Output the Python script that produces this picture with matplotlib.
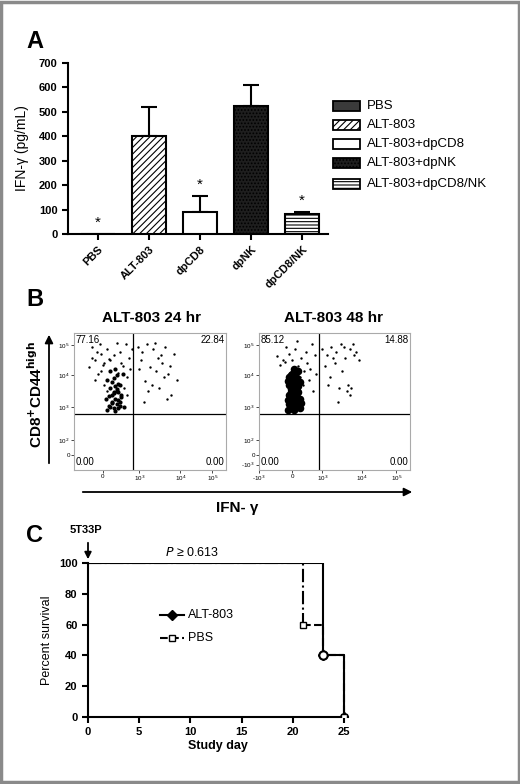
import matplotlib
matplotlib.use("Agg")
import matplotlib.pyplot as plt
from matplotlib.patches import Rectangle, FancyArrowPatch

plt.rcParams['font.family'] = ['Liberation Sans', 'DejaVu Sans']
plt.rcParams['hatch.linewidth'] = 0.8

# ---------- data ----------
cats = ["PBS", "ALT-803", "dpCD8", "dpNK", "dpCD8/NK"]
legend_labels = ["PBS", "ALT-803", "ALT-803+dpCD8", "ALT-803+dpNK", "ALT-803+dpCD8/NK"]
ifn = [0, 400, 90, 525, 80]
ifn_err = [0, 118, 65, 85, 12]
star_y = [45, None, 200, None, 135]

quad24 = ["77.16", "22.84", "0.00", "0.00"]
quad48 = ["85.12", "14.88", "0.00", "0.00"]

L_dense_x = [0.22,0.24,0.26,0.28,0.30,0.25,0.27,0.29,0.23,0.31,0.26,0.28,0.24,0.27,0.30,0.25,0.29,0.22,0.26,0.28,0.32,0.24,0.27,0.29,0.25,0.23,0.31,0.26,0.28,0.30,0.21,0.33,0.27,0.25,0.29]
L_dense_y = [0.44,0.46,0.45,0.48,0.47,0.50,0.52,0.51,0.54,0.55,0.57,0.58,0.60,0.61,0.62,0.64,0.63,0.66,0.67,0.69,0.70,0.72,0.74,0.45,0.49,0.47,0.53,0.56,0.59,0.50,0.52,0.46,0.43,0.55,0.57]
L_sp_x = [0.10,0.14,0.18,0.12,0.20,0.16,0.22,0.34,0.36,0.32,0.30,0.24,0.18,0.14,0.28,0.35,0.20,0.26,0.33,0.38,0.12,0.31,0.22,0.17,0.37,0.19,0.29,0.35,0.23,0.15]
L_sp_y = [0.75,0.80,0.85,0.90,0.78,0.70,0.88,0.92,0.82,0.76,0.86,0.80,0.72,0.66,0.93,0.68,0.62,0.84,0.60,0.88,0.82,0.78,0.58,0.92,0.74,0.77,0.71,0.55,0.81,0.86]
L_ur_x = [0.42,0.45,0.48,0.52,0.55,0.58,0.60,0.62,0.50,0.47,0.44,0.56,0.64,0.66,0.53,0.49,0.59,0.61,0.54,0.43,0.57,0.51,0.63,0.46,0.68]
L_ur_y = [0.90,0.86,0.92,0.88,0.82,0.78,0.90,0.70,0.75,0.65,0.80,0.60,0.55,0.85,0.93,0.58,0.68,0.52,0.72,0.74,0.84,0.62,0.76,0.50,0.66]

R_dense_x = [0.19,0.21,0.23,0.25,0.27,0.20,0.22,0.24,0.26,0.28,0.19,0.21,0.23,0.25,0.27,0.20,0.22,0.24,0.26,0.21,0.23,0.25,0.20,0.22,0.24,0.26,0.19,0.23,0.25,0.27,0.21,0.22,0.24,0.20,0.26,0.23,0.25,0.22,0.24,0.21]
R_dense_y = [0.44,0.45,0.44,0.46,0.45,0.48,0.49,0.48,0.47,0.49,0.51,0.52,0.51,0.53,0.52,0.55,0.56,0.55,0.57,0.59,0.60,0.58,0.62,0.63,0.62,0.61,0.65,0.66,0.67,0.64,0.69,0.70,0.71,0.68,0.72,0.74,0.47,0.53,0.58,0.57]
R_sp_x = [0.12,0.16,0.20,0.24,0.28,0.32,0.35,0.30,0.26,0.18,0.14,0.33,0.37,0.29,0.22,0.31,0.36,0.27,0.34,0.38,0.25,0.17]
R_sp_y = [0.83,0.80,0.85,0.88,0.82,0.78,0.92,0.72,0.76,0.90,0.77,0.66,0.84,0.62,0.80,0.86,0.58,0.68,0.74,0.70,0.94,0.79]
R_ur_x = [0.42,0.45,0.48,0.51,0.54,0.57,0.60,0.63,0.66,0.44,0.50,0.55,0.62,0.47,0.53,0.59,0.58,0.60,0.61,0.52,0.46,0.64,0.49,0.56]
R_ur_y = [0.88,0.84,0.90,0.86,0.92,0.82,0.88,0.84,0.80,0.76,0.78,0.72,0.92,0.68,0.60,0.62,0.58,0.55,0.60,0.50,0.62,0.86,0.82,0.90]

days_alt = [0, 23, 23, 25, 25]
surv_alt = [100, 100, 40, 40, 0]
days_pbs = [0, 21, 21, 23, 23, 25, 25]
surv_pbs = [100, 100, 60, 60, 40, 40, 0]

# ---------- figure ----------
W, H = 520, 784
fig = plt.figure(figsize=(W/100, H/100), dpi=100)
def ax_px(x0, y0, x1, y1):
    return fig.add_axes([x0/W, 1-y1/H, (x1-x0)/W, (y1-y0)/H])

fig.patches.append(Rectangle((0.002, 0.002), 0.996, 0.996, transform=fig.transFigure,
                             fill=False, edgecolor='#8a8a8a', lw=2.5))

# ---------- Panel A ----------
axA = ax_px(68, 63, 328, 234)
styles = [dict(color='#3a3a3a', hatch=None),
          dict(color='white', hatch='/////'),
          dict(color='white', hatch=None),
          dict(color='#1e1e1e', hatch='.....'),
          dict(color='white', hatch='-----')]
xs = list(range(len(cats)))
for i in xs:
    st = styles[i]
    axA.bar(i, ifn[i], width=0.68, color=st['color'], hatch=st['hatch'],
            edgecolor='black', linewidth=1.5, zorder=3)
    if ifn_err[i] > 0:
        axA.errorbar(i, ifn[i], yerr=[[0], [ifn_err[i]]], color='black',
                     capsize=6, elinewidth=1.5, capthick=1.5, zorder=2)
    if star_y[i] is not None:
        axA.text(i, star_y[i], '*', ha='center', va='center', fontsize=11)
axA.set_xlim(-0.59, 4.51)
axA.set_ylim(0, 700)
axA.set_yticks(range(0, 701, 100))
axA.set_xticks(xs)
axA.set_xticklabels(cats, rotation=45, ha='right', rotation_mode='anchor',
                    fontsize=8, fontweight='bold')
for lab in axA.get_yticklabels():
    lab.set_fontweight('bold'); lab.set_fontsize(8)
axA.set_ylabel('IFN-γ (pg/mL)', fontsize=10)
axA.yaxis.set_label_coords(-0.15, 0.5)
for s in ['top', 'right']:
    axA.spines[s].set_visible(False)
for s in ['left', 'bottom']:
    axA.spines[s].set_linewidth(1.5)
axA.tick_params(width=1.5, length=4)

for k, lab in enumerate(legend_labels):
    yc = [106, 125, 144, 163, 184][k]
    st = styles[k]
    fig.patches.append(Rectangle((333/W, 1-(yc+5)/H), 27/W, 10/H, transform=fig.transFigure,
                                 facecolor=st['color'], hatch=st['hatch'],
                                 edgecolor='black', lw=1.3))
    fig.text(367/W, 1-yc/H, lab, fontsize=9.5, va='center', ha='left')

fig.text(26/W, 1-42/H, 'A', fontsize=17, fontweight='bold', va='center')
fig.text(26/W, 1-300/H, 'B', fontsize=17, fontweight='bold', va='center')
fig.text(26/W, 1-535/H, 'C', fontsize=17, fontweight='bold', va='center')

# ---------- Panel B ----------
def flow(ax, vx, hy, pts, quad, xt, xl, yt, yl):
    for (px, py, s) in pts:
        ax.scatter(px, py, s=s, c='black', marker='o', linewidths=0)
    ax.axvline(vx, color='black', lw=0.9)
    ax.axhline(hy, color='black', lw=0.9)
    ax.set_xlim(0, 1); ax.set_ylim(0, 1)
    ax.set_xticks(xt); ax.set_xticklabels(xl, fontsize=4.5)
    ax.set_yticks(yt); ax.set_yticklabels(yl, fontsize=4.5)
    ax.tick_params(length=2, width=0.5, pad=1)
    for s in ax.spines.values():
        s.set_color('#aaaaaa'); s.set_linewidth(0.8)
    ax.text(0.01, 0.985, quad[0], transform=ax.transAxes, fontsize=7, va='top')
    ax.text(0.99, 0.985, quad[1], transform=ax.transAxes, fontsize=7, va='top', ha='right')
    ax.text(0.01, 0.02, quad[2], transform=ax.transAxes, fontsize=7, va='bottom')
    ax.text(0.99, 0.02, quad[3], transform=ax.transAxes, fontsize=7, va='bottom', ha='right')

axL = ax_px(74, 333, 226, 470)
flow(axL, 0.39, 0.41,
     [(L_dense_x, L_dense_y, 9), (L_sp_x, L_sp_y, 3), (L_ur_x, L_ur_y, 3)],
     quad24, [0.19, 0.43, 0.70, 0.91], ['0', '10$^3$', '10$^4$', '10$^5$'],
     [0.11, 0.22, 0.46, 0.69, 0.91], ['0', '10$^2$', '10$^3$', '10$^4$', '10$^5$'])
axR = ax_px(259, 333, 410, 470)
flow(axR, 0.40, 0.41,
     [(R_dense_x, R_dense_y, 30), (R_sp_x, R_sp_y, 3), (R_ur_x, R_ur_y, 3)],
     quad48, [0.0, 0.22, 0.42, 0.68, 0.91], ['-10$^3$', '0', '10$^3$', '10$^4$', '10$^5$'],
     [0.04, 0.11, 0.22, 0.46, 0.69, 0.91], ['-10$^3$', '0', '10$^2$', '10$^3$', '10$^4$', '10$^5$'])
fig.text(151/W, 1-318/H, 'ALT-803 24 hr', fontsize=11, fontweight='bold', ha='center', va='center')
fig.text(334/W, 1-318/H, 'ALT-803 48 hr', fontsize=11, fontweight='bold', ha='center', va='center')
fig.patches.append(FancyArrowPatch((49/W, 1-466/H), (49/W, 1-332/H), transform=fig.transFigure,
                                   arrowstyle='-|>', mutation_scale=12, color='black', lw=1.3))
fig.patches.append(FancyArrowPatch((80/W, 1-492/H), (415/W, 1-492/H), transform=fig.transFigure,
                                   arrowstyle='-|>', mutation_scale=12, color='black', lw=1.3))
fig.text(36/W, 1-395/H, r'CD8$^{\bf{+}}$CD44$^{\bf{high}}$', rotation=90, fontsize=11,
         fontweight='bold', ha='center', va='center')
fig.text(237/W, 1-508/H, 'IFN- γ', fontsize=11, fontweight='bold', ha='center', va='center')

# ---------- Panel C ----------
axC = ax_px(88, 563, 348, 717)
axC.plot(days_alt, surv_alt, color='black', lw=1.5, label='ALT-803')
axC.plot(days_pbs[:3], surv_pbs[:3], color='black', lw=1.5, ls='-.')
axC.plot(days_pbs[2:], surv_pbs[2:], color='black', lw=1.5, ls='--')
axC.plot([23, 25], [40, 0], ls='none', marker='D', color='black', ms=5, zorder=4)
axC.plot([21, 23, 25], [60, 40, 0], ls='none', marker='s', mfc='white', mec='black', ms=5, zorder=5)
axC.plot([23], [40], ls='none', marker='o', mfc='white', mec='black', mew=1.5, ms=6, zorder=6)
axC.set_xlim(0, 25.4); axC.set_ylim(0, 100)
axC.set_xticks(range(0, 26, 5)); axC.set_yticks(range(0, 101, 20))
for lab in axC.get_xticklabels() + axC.get_yticklabels():
    lab.set_fontweight('bold'); lab.set_fontsize(8)
axC.set_xlabel('Study day', fontsize=9, fontweight='bold', labelpad=2)
axC.set_ylabel('Percent survival', fontsize=9)
for s in ['top', 'right']:
    axC.spines[s].set_visible(False)
for s in ['left', 'bottom']:
    axC.spines[s].set_linewidth(1.5)
axC.tick_params(width=1.5, length=4)
axC.plot([7.0, 9.4], [66, 66], color='black', lw=1.5)
axC.plot([8.2], [66], marker='D', color='black', ms=5)
axC.text(9.8, 66, 'ALT-803', fontsize=9, va='center')
axC.plot([7.0, 9.4], [51, 51], color='black', lw=1.5, ls='--')
axC.plot([8.2], [51], marker='s', mfc='white', mec='black', ms=5)
axC.text(9.8, 51, 'PBS', fontsize=9, va='center')
fig.patches.append(FancyArrowPatch((88/W, 1-540/H), (88/W, 1-562/H), transform=fig.transFigure,
                                   arrowstyle='-|>', mutation_scale=10, color='black', lw=1.3))
fig.text(70/W, 1-530/H, '5T33P', fontsize=8, fontweight='bold', va='center')
fig.text(192/W, 1-553/H, r'$\it{P}$ ≥ 0.613', fontsize=9, ha='center', va='center')

fig.savefig('out.png', dpi=100)
